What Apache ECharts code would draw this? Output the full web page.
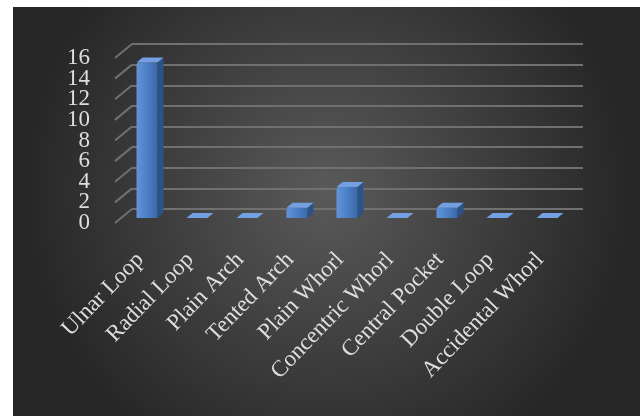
<!DOCTYPE html>
<html><head><meta charset="utf-8">
<script src="https://cdn.jsdelivr.net/npm/echarts@6/dist/echarts.min.js"></script>
<style>html,body{margin:0;padding:0;background:#fff}#c{width:640px;height:416px}</style>
</head><body><div id="c"></div>
<script>
const categories = ['Ulnar Loop','Radial Loop','Plain Arch','Tented Arch','Plain Whorl','Concentric Whorl','Central Pocket','Double Loop','Accidental Whorl'];
const counts = [15, 0, 0, 1, 3, 0, 1, 0, 0];
const yTicks = [0, 2, 4, 6, 8, 10, 12, 14, 16];

const chart = echarts.init(document.getElementById('c'));
const font = '"Liberation Serif", "Times New Roman", serif';
const gridCol = '#707070';
const txtCol = '#dedede';

chart.setOption({
  animation: false,
  graphic: [{
    type: 'rect', z: -10, silent: true,
    shape: { x: 13, y: 7, width: 627, height: 409 },
    style: { fill: { type: 'radial', x: 0.5, y: 0.45, r: 0.75,
      colorStops: [{ offset: 0, color: '#5a5a5a' }, { offset: 0.55, color: '#3d3d3d' }, { offset: 1, color: '#262626' }] } }
  }],
  grid: [
    { left: 115, top: 58, width: 450, height: 165 },   // floor-front / labels
    { left: 132, top: 44, width: 451, height: 165 },   // back wall
    { left: 122, top: 52, width: 450, height: 166 }    // bars
  ],
  xAxis: [
    { gridIndex: 0, type: 'value', min: 0, max: 1, show: false },
    { gridIndex: 1, type: 'value', min: 0, max: 1, show: false },
    { gridIndex: 2, type: 'category', data: categories,
      axisLine: { show: false }, axisTick: { show: false },
      axisLabel: { interval: 0, rotate: 46, margin: 31, padding: [0, 10, 0, 0], color: txtCol,
        fontFamily: font, fontSize: 23, hideOverlap: false } }
  ],
  yAxis: [
    { gridIndex: 0, type: 'value', min: 0, max: 16, interval: 2, show: false },
    { gridIndex: 1, type: 'value', min: 0, max: 16, interval: 2,
      axisLine: { show: false }, axisTick: { show: false }, axisLabel: { show: false },
      splitLine: { lineStyle: { color: gridCol, width: 2 } } },
    { gridIndex: 2, type: 'value', min: 0, max: 16, interval: 2, show: false }
  ],
  series: [
    { type: 'custom', xAxisIndex: 0, yAxisIndex: 0, silent: true,
      data: yTicks.map(v => [0, v]),
      renderItem(params, api) {
        const p = api.coord([0, api.value(1)]);
        return { type: 'group', children: [
          { type: 'line', shape: { x1: p[0], y1: p[1], x2: p[0] + 17, y2: p[1] - 14 },
            style: { stroke: gridCol, lineWidth: 2 } },
          { type: 'text', x: p[0] - 25, y: p[1],
            style: { text: String(api.value(1)), fill: txtCol, font: '23px ' + font,
              align: 'right', verticalAlign: 'middle' } }
        ] };
      } },
    { type: 'custom', xAxisIndex: 2, yAxisIndex: 2, silent: true,
      data: counts.map((v, i) => [i, v]),
      renderItem(params, api) {
        const base = api.coord([api.value(0), 0]);
        const top = api.coord([api.value(0), api.value(1)]);
        const bw = api.size([1, 0])[0] * 0.42;
        const x0 = base[0] - bw / 2, x1 = base[0] + bw / 2;
        const dx = 6, dy = -5;
        const ty = top[1];
        const children = [];
        if (api.value(1) > 0) {
          children.push({ type: 'rect', shape: { x: x0, y: ty, width: bw, height: base[1] - ty, r: [3, 3, 0, 0] },
            style: { fill: { type: 'linear', x: 0, y: 0, x2: 1, y2: 0,
              colorStops: [{ offset: 0, color: '#6194d8' }, { offset: 0.5, color: '#4c80c6' }, { offset: 1, color: '#3b68a8' }] } } });
          children.push({ type: 'polygon', shape: { points: [[x1, ty], [x1 + dx, ty + dy], [x1 + dx, base[1] + dy], [x1, base[1]]] },
            style: { fill: '#2c5389' } });
        }
        children.push({ type: 'polygon', shape: { points: [[x0, ty], [x0 + dx, ty + dy], [x1 + dx, ty + dy], [x1, ty]] },
          style: { fill: '#73a0e2' } });
        return { type: 'group', children };
      } }
  ]
});
</script></body></html>
